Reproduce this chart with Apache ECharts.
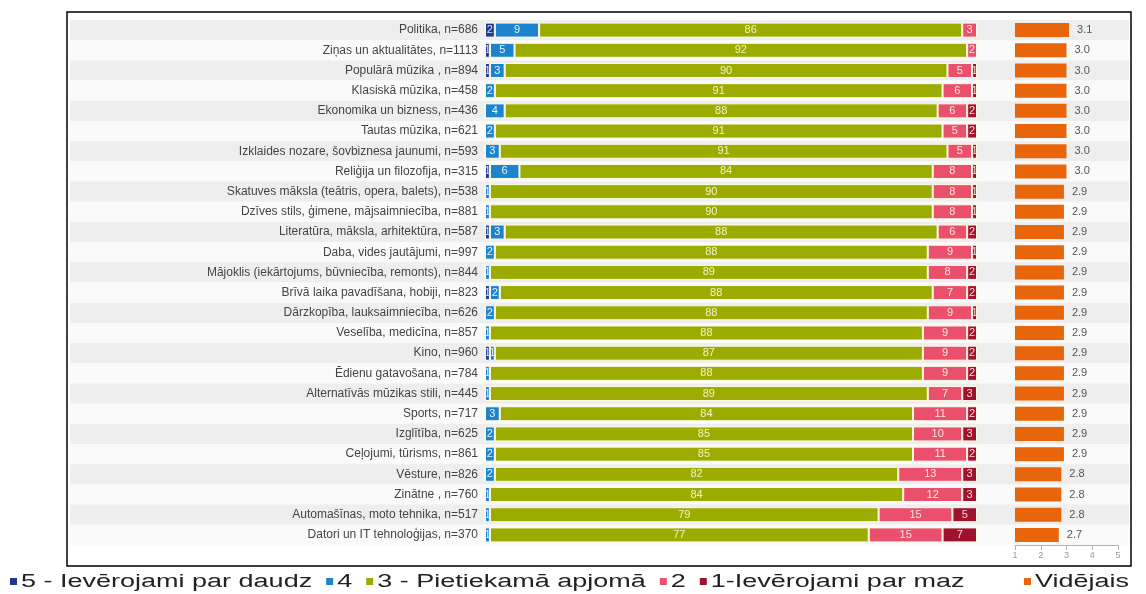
<!DOCTYPE html>
<html>
<head>
<meta charset="utf-8">
<script src="https://cdn.jsdelivr.net/npm/echarts@6/dist/echarts.min.js"></script>
<style>
  html, body { margin: 0; padding: 0; background: #fff; }
  #chart { width: 1146px; height: 594px; }
</style>
</head>
<body>
<div id="chart"></div>
<script>
const categories = [
  'Politika, n=686', 'Ziņas un aktualitātes, n=1113', 'Populārā mūzika , n=894', 'Klasiskā mūzika, n=458',
  'Ekonomika un bizness, n=436', 'Tautas mūzika, n=621', 'Izklaides nozare, šovbiznesa jaunumi, n=593',
  'Reliģija un filozofija, n=315', 'Skatuves māksla (teātris, opera, balets), n=538',
  'Dzīves stils, ģimene, mājsaimniecība, n=881', 'Literatūra, māksla, arhitektūra, n=587',
  'Daba, vides jautājumi, n=997', 'Mājoklis (iekārtojums, būvniecība, remonts), n=844',
  'Brīvā laika pavadīšana, hobiji, n=823', 'Dārzkopība, lauksaimniecība, n=626', 'Veselība, medicīna, n=857',
  'Kino, n=960', 'Ēdienu gatavošana, n=784', 'Alternatīvās mūzikas stili, n=445', 'Sports, n=717',
  'Izglītība, n=625', 'Ceļojumi, tūrisms, n=861', 'Vēsture, n=826', 'Zinātne , n=760',
  'Automašīnas, moto tehnika, n=517', 'Datori un IT tehnoloģijas, n=370'
]
const v5 = [2, 1, 1, 0, 0, 0, 0, 1, 0, 0, 1, 0, 0, 1, 0, 0, 1, 0, 0, 0, 0, 0, 0, 0, 0, 0]
const v4 = [9, 5, 3, 2, 4, 2, 3, 6, 1, 1, 3, 2, 1, 2, 2, 1, 1, 1, 1, 3, 2, 2, 2, 1, 1, 1]
const v3 = [86, 92, 90, 91, 88, 91, 91, 84, 90, 90, 88, 88, 89, 88, 88, 88, 87, 88, 89, 84, 85, 85, 82, 84, 79, 77]
const v2 = [3, 2, 5, 6, 6, 5, 5, 8, 8, 8, 6, 9, 8, 7, 9, 9, 9, 9, 7, 11, 10, 11, 13, 12, 15, 15]
const v1 = [0, 0, 1, 1, 2, 2, 1, 1, 1, 1, 2, 1, 2, 2, 1, 2, 2, 2, 3, 2, 3, 2, 3, 3, 5, 7]
const avg = [3.1, 3.0, 3.0, 3.0, 3.0, 3.0, 3.0, 3.0, 2.9, 2.9, 2.9, 2.9, 2.9, 2.9, 2.9, 2.9, 2.9, 2.9, 2.9, 2.9, 2.9, 2.9, 2.8, 2.8, 2.8, 2.7]
const avgTicks = [1, 2, 3, 4, 5]

const font = 'Liberation Sans, Arial, sans-serif'
const names = ['5 - Ievērojami par daudz', '4', '3 - Pietiekamā apjomā', '2', '1-Ievērojami par maz']
const colors = ['#1f3a86', '#1c84cc', '#9cab00', '#ea4f6c', '#a0112d']
const labelColors = ['#cfe4ff', '#e6f3ff', '#f3f3c4', '#fde3e6', '#fbd6dc']
const values = [v5, v4, v3, v2, v1]

const chart = echarts.init(document.getElementById('chart'))

const stackSeries = values.map((data, i) => ({
  name: names[i],
  type: 'bar',
  stack: 'share',
  xAxisIndex: 1,
  yAxisIndex: 1,
  data: data,
  barWidth: 15,
  itemStyle: { color: colors[i], borderColor: '#fffbe6', borderWidth: 1 },
  label: {
    show: true,
    position: 'inside',
    color: labelColors[i],
    fontSize: 11,
    fontFamily: font,
    formatter: p => (p.value > 0 ? p.value : '')
  }
}))

// legend text in the source is stretched sideways, so it is drawn as scaled graphic text
const legendFontSize = 18
const stretch = 1.5
const ctx = document.createElement('canvas').getContext('2d')
ctx.font = legendFontSize + 'px "Liberation Sans"'
const legendItems = []
const addLegendItem = (name, color, x) => {
  legendItems.push({ type: 'rect', x: x, y: 578, shape: { x: 0, y: 0, width: 7, height: 7 }, style: { fill: color } })
  legendItems.push({
    type: 'text',
    x: x + 11,
    y: 582,
    scaleX: stretch,
    style: { text: name, fontSize: legendFontSize, fontFamily: 'Liberation Sans', fill: '#222', verticalAlign: 'middle' }
  })
  return x + 11 + ctx.measureText(name).width * stretch
}
let legendX = 10
names.forEach((n, i) => { legendX = addLegendItem(n, colors[i], legendX) + 14 })
addLegendItem('Vidējais', '#e8650a', 1024)

chart.setOption({
  animation: false,
  textStyle: { fontFamily: font },
  graphic: [{
    type: 'rect',
    shape: { x: 67, y: 12, width: 1064, height: 554 },
    style: { fill: 'none', stroke: '#000', lineWidth: 1.5 },
    z: 10
  }, ...legendItems],
  grid: [
    { left: 70, right: 17, top: 20, bottom: 49 },
    { left: 485, right: 169, top: 20, bottom: 49 },
    { left: 1015, right: 28, top: 20, bottom: 49 }
  ],
  xAxis: [
    { gridIndex: 0, type: 'value', show: false },
    { gridIndex: 1, type: 'value', min: 0, max: 100, show: false },
    {
      gridIndex: 2,
      type: 'value',
      min: 1,
      max: 5,
      interval: 1,
      axisLine: { show: true, lineStyle: { color: '#aab4c0' } },
      axisTick: { show: true, lineStyle: { color: '#aab4c0' } },
      splitLine: { show: false },
      axisLabel: { color: '#999', fontSize: 9, margin: 6, formatter: v => (avgTicks.includes(v) ? v : '') }
    }
  ],
  yAxis: [
    {
      gridIndex: 0,
      type: 'category',
      inverse: true,
      data: categories,
      axisLine: { show: false },
      axisTick: { show: false },
      axisLabel: { show: false },
      splitArea: { show: true, areaStyle: { color: ['#eeeeee', '#fafafa'] } }
    },
    {
      gridIndex: 1,
      type: 'category',
      inverse: true,
      data: categories,
      axisLine: { show: false },
      axisTick: { show: false },
      axisLabel: { color: '#444', fontSize: 12, margin: 7, fontFamily: font }
    },
    {
      gridIndex: 2,
      type: 'category',
      inverse: true,
      data: categories,
      axisLine: { show: false },
      axisTick: { show: false },
      axisLabel: { show: false }
    }
  ],
  series: [
    ...stackSeries,
    {
      name: 'Vidējais',
      type: 'bar',
      xAxisIndex: 2,
      yAxisIndex: 2,
      data: avg,
      barWidth: 14,
      clip: true,
      itemStyle: { color: '#e8650a' },
      label: {
        show: true,
        position: 'right',
        color: '#555',
        fontSize: 11,
        distance: 8,
        formatter: p => p.value.toFixed(1)
      }
    }
  ]
})
</script>
</body>
</html>
